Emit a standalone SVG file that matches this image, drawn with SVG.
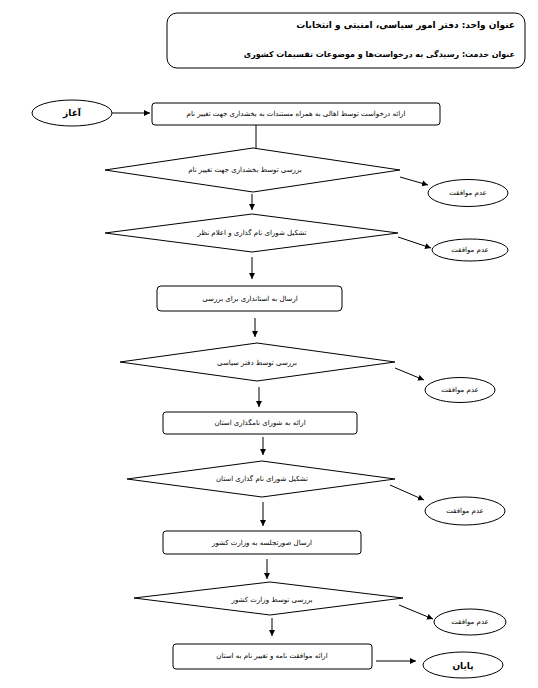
<svg xmlns="http://www.w3.org/2000/svg" width="538" height="688" viewBox="0 0 538 688">
<style>
.shape{fill:#fff;stroke:#000;stroke-width:1}
.t{font-family:"DejaVu Sans",sans-serif;font-size:7px;fill:#000;text-anchor:middle;dominant-baseline:middle}
.b{font-family:"DejaVu Sans",sans-serif;font-size:9px;font-weight:bold;fill:#000;text-anchor:middle;dominant-baseline:middle}
.h{font-family:"DejaVu Sans",sans-serif;font-size:9px;font-weight:bold;fill:#000;text-anchor:start;dominant-baseline:middle}
.c{fill:none;stroke:#000;stroke-width:1}
</style>
<defs>
<marker id="ah" markerWidth="7" markerHeight="7" refX="6" refY="3.5" orient="auto" markerUnits="userSpaceOnUse">
<path d="M0,0.5 L6,3.5 L0,6.5 Z" fill="#000"/>
</marker>
</defs>
<rect width="538" height="688" fill="#fff"/>
<g id="header">
<rect class="shape" x="167" y="13" width="358" height="55" rx="10"/>
<text class="h" x="515" y="25" direction="rtl">عنوان واحد: دفتر امور سیاسی، امنیتی و انتخابات</text>
<text class="h" x="515" y="54" direction="rtl" style="font-size:8px">عنوان خدمت: رسیدگی به درخواست‌ها و موضوعات تقسیمات کشوری</text>
</g>
<g id="connectors">
<line class="c" x1="112" y1="113" x2="150" y2="113" marker-end="url(#ah)"/>
<line class="c" x1="256" y1="125" x2="256" y2="148"/>
<line class="c" x1="400" y1="177" x2="428" y2="185" marker-end="url(#ah)"/>
<line class="c" x1="252" y1="194" x2="252" y2="210" marker-end="url(#ah)"/>
<line class="c" x1="398" y1="237" x2="431" y2="248" marker-end="url(#ah)"/>
<line class="c" x1="252" y1="257" x2="252" y2="279" marker-end="url(#ah)"/>
<line class="c" x1="255" y1="318" x2="255" y2="337" marker-end="url(#ah)"/>
<line class="c" x1="395" y1="368" x2="424" y2="380" marker-end="url(#ah)"/>
<line class="c" x1="259" y1="387" x2="259" y2="407" marker-end="url(#ah)"/>
<line class="c" x1="263" y1="437" x2="263" y2="455" marker-end="url(#ah)"/>
<line class="c" x1="390" y1="485" x2="424" y2="500" marker-end="url(#ah)"/>
<line class="c" x1="263" y1="502" x2="263" y2="526" marker-end="url(#ah)"/>
<line class="c" x1="267" y1="559" x2="267" y2="579" marker-end="url(#ah)"/>
<line class="c" x1="399" y1="605" x2="433" y2="619" marker-end="url(#ah)"/>
<line class="c" x1="272" y1="618" x2="272" y2="636" marker-end="url(#ah)"/>
<line class="c" x1="376" y1="661" x2="416" y2="661" marker-end="url(#ah)"/>
</g>
<g id="start">
<ellipse class="shape" cx="72" cy="113" rx="40" ry="13"/>
<text class="b" x="72" y="113" direction="rtl">آغاز</text>
</g>
<g id="box1">
<rect class="shape" x="152" y="103" width="288" height="22" rx="3"/>
<text class="t" x="296" y="114" direction="rtl">ارائه درخواست توسط اهالی به همراه مستندات به بخشداری جهت تغییر نام</text>
</g>
<g id="diamond1">
<polygon class="shape" points="253,148 400,170 253,192 105,170"/>
<text class="t" x="245" y="170" direction="rtl">بررسی توسط بخشداری جهت تغییر نام</text>
</g>
<g id="reject1">
<ellipse class="shape" cx="468" cy="193" rx="40" ry="13.5"/>
<text class="t" x="468" y="193" direction="rtl">عدم موافقت</text>
</g>
<g id="diamond2">
<polygon class="shape" points="252,214 398,233 252,252 105,233"/>
<text class="t" x="252" y="233" direction="rtl">تشکیل شورای نام گذاری و اعلام نظر</text>
</g>
<g id="reject2">
<ellipse class="shape" cx="470" cy="250" rx="38" ry="11"/>
<text class="t" x="470" y="250" direction="rtl">عدم موافقت</text>
</g>
<g id="box2">
<rect class="shape" x="157" y="286" width="185" height="25" rx="4"/>
<text class="t" x="250" y="299" direction="rtl">ارسال به استانداری برای بررسی</text>
</g>
<g id="diamond3">
<polygon class="shape" points="257,343 395,362 257,381 120,362"/>
<text class="t" x="257" y="363" direction="rtl">بررسی توسط دفتر سیاسی</text>
</g>
<g id="reject3">
<ellipse class="shape" cx="460" cy="390" rx="35" ry="12.5"/>
<text class="t" x="460" y="390" direction="rtl">عدم موافقت</text>
</g>
<g id="box3">
<rect class="shape" x="163" y="412" width="194" height="22" rx="3"/>
<text class="t" x="260" y="423" direction="rtl">ارائه به شورای نامگذاری استان</text>
</g>
<g id="diamond4">
<polygon class="shape" points="262,461 395,479 262,497 127,479"/>
<text class="t" x="262" y="479" direction="rtl">تشکیل شورای نام گذاری استان</text>
</g>
<g id="reject4">
<ellipse class="shape" cx="465" cy="511" rx="40" ry="14"/>
<text class="t" x="465" y="511" direction="rtl">عدم موافقت</text>
</g>
<g id="box4">
<rect class="shape" x="163" y="531" width="198" height="23" rx="3"/>
<text class="t" x="262" y="543" direction="rtl">ارسال صورتجلسه به وزارت کشور</text>
</g>
<g id="diamond5">
<polygon class="shape" points="270,582 403,598 270,615 134,598"/>
<text class="t" x="272" y="600" direction="rtl">بررسی توسط وزارت کشور</text>
</g>
<g id="reject5">
<ellipse class="shape" cx="470" cy="622" rx="36" ry="13"/>
<text class="t" x="470" y="622" direction="rtl">عدم موافقت</text>
</g>
<g id="box5">
<rect class="shape" x="173" y="644" width="199" height="25" rx="3"/>
<text class="t" x="272" y="656" direction="rtl">ارائه موافقت نامه و تغییر نام به استان</text>
</g>
<g id="end">
<ellipse class="shape" cx="463" cy="665" rx="40" ry="13"/>
<text class="b" x="463" y="666" direction="rtl">پایان</text>
</g>
</svg>
